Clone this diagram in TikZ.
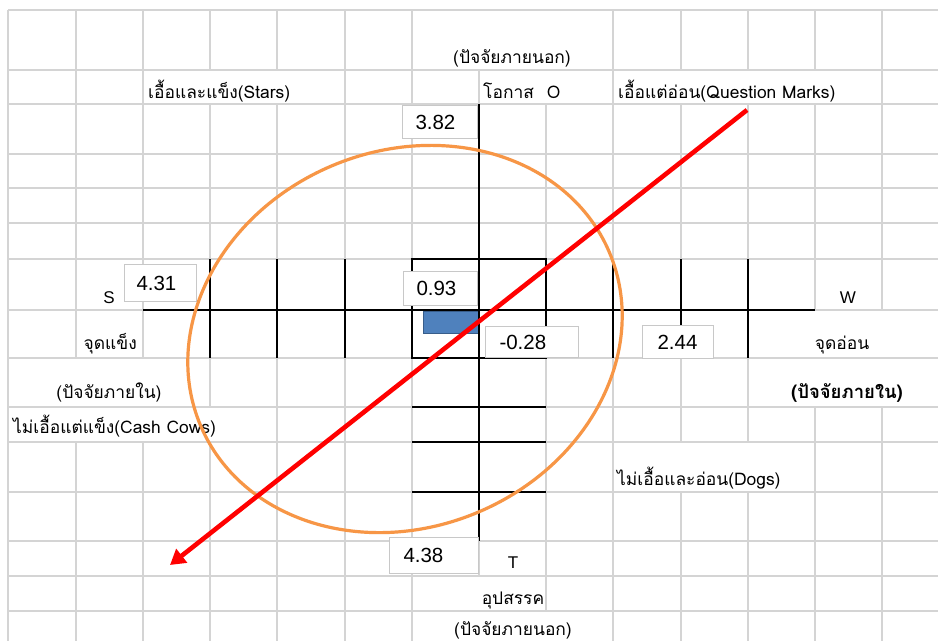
\documentclass[tikz,border=0pt]{standalone}
\usepackage{fontspec}
\setmainfont{Liberation Sans}
\newfontfamily\thaifont[Script=Thai]{Loma}
\usetikzlibrary{arrows.meta}
\definecolor{gridgray}{HTML}{D4D4D4}
\definecolor{boxgray}{HTML}{C8C8C8}
\definecolor{barblue}{HTML}{4F81BD}
\definecolor{barborder}{HTML}{385D8A}
\definecolor{ellorange}{HTML}{F79646}
\definecolor{arrowred}{HTML}{FF0000}
\begin{document}
\begin{tikzpicture}[x=1pt,y=-1pt,
  gridline/.style={draw=gridgray, line width=1.5pt},
  axisline/.style={draw=black, line width=2.2pt},
  tickline/.style={draw=black, line width=2pt},
  numbox/.style={draw=boxgray, line width=1pt, fill=white, anchor=north west,
    inner ysep=0pt, align=left, font=\fontsize{20.5}{22}\selectfont},
  thailabel/.style={inner sep=0pt, font=\thaifont\fontsize{17.4}{19}\selectfont},
  latinletter/.style={inner sep=0pt, font=\fontsize{17}{19}\selectfont},
  ellipsestyle/.style={draw=ellorange, line width=3.2pt},
  redarrow/.style={draw=arrowred, line width=4.6pt, -{Triangle[length=15pt,width=17pt]}}
]
\useasboundingbox[fill=white] (0,0) rectangle (938,641);

% gray spreadsheet grid
\foreach \y in {10,70,104,154,188,223,259,310,358,407,442,492,541,576,611}
  \draw[gridline] (8,\y) -- (938,\y);
\draw[gridline]
  (8,10)--(8,641)
  (76,10)--(76,358) (76,442)--(76,641)
  (143,10)--(143,358) (143,442)--(143,641)
  (210,10)--(210,70) (210,104)--(210,407) (210,442)--(210,641)
  (277,10)--(277,70) (277,104)--(277,641)
  (345,10)--(345,641)
  (412,10)--(412,641)
  (479,70)--(479,576)
  (546,104)--(546,611)
  (613,10)--(613,641)
  (681,10)--(681,70) (681,104)--(681,442) (681,492)--(681,641)
  (748,10)--(748,70) (748,104)--(748,442) (748,492)--(748,641)
  (815,10)--(815,70) (815,104)--(815,310) (815,407)--(815,641)
  (882,10)--(882,310) (882,407)--(882,641);

% blue bar
\node[draw=barborder, fill=barblue, line width=0.8pt, inner sep=0pt, anchor=north west,
  minimum width=56pt, minimum height=22pt] (bar) at (423,311) {};

% black axes and ticks
\draw[axisline] (143,310) -- (815,310);
\draw[axisline] (479,104) -- (479,541);
\draw[tickline] (210,259)--(210,358) (277,259)--(277,358) (345,259)--(345,358)
  (613,259)--(613,358) (681,259)--(681,358) (748,259)--(748,358);
\draw[tickline] (412,259) rectangle (546,358);
\draw[tickline] (412,407)--(546,407) (412,442)--(546,442) (412,492)--(546,492);

% value boxes
\node[numbox, minimum height=33pt, inner xsep=13pt, text width=49pt] (v382) at (402,105) {3.82};
\node[numbox, minimum height=37pt, inner xsep=12pt, text width=48pt] (v431) at (124,264) {4.31};
\node[numbox, minimum height=34pt, inner xsep=13pt, text width=48pt] (v093) at (403,271) {0.93};
\node[numbox, minimum height=31pt, inner xsep=14pt, text width=65pt] (v028) at (485,326) {-0.28};
\node[numbox, minimum height=33pt, inner xsep=15pt, text width=41pt] (v244) at (642,325) {2.44};
\node[numbox, minimum height=36pt, inner xsep=14pt, text width=61pt] (v438) at (389,537) {4.38};

% labels
\node[thailabel, anchor=base] (extTop) at (512,63) {(ปัจจัยภายนอก)};
\node[thailabel, anchor=base west] (stars) at (148,98) {เอื้อและแข็ง(Stars)};
\node[thailabel, anchor=base west] (opp) at (483,98) {โอกาส\hspace{13pt}O};
\node[thailabel, anchor=base west] (qmarks) at (618,98) {เอื้อแต่อ่อน(Question Marks)};
\node[latinletter, anchor=base] (sLetter) at (109,303) {S};
\node[latinletter, anchor=base] (wLetter) at (848,303) {W};
\node[thailabel, anchor=base east] (strength) at (137,349) {จุดแข็ง};
\node[thailabel, anchor=base] (weakness) at (842,349) {จุดอ่อน};
\node[thailabel, anchor=base] (intLeft) at (109,398) {(ปัจจัยภายใน)};
\node[thailabel, anchor=base, font=\thaifont\bfseries\fontsize{18.5}{20}\selectfont] (intRight) at (847,398) {(ปัจจัยภายใน)};
\node[thailabel, anchor=base west] (cows) at (13,433) {ไม่เอื้อแต่แข็ง(Cash Cows)};
\node[thailabel, anchor=base west] (dogs) at (617,485) {ไม่เอื้อและอ่อน(Dogs)};
\node[latinletter, anchor=base] (tLetter) at (513,568) {T};
\node[thailabel, anchor=base] (threat) at (513,604) {อุปสรรค};
\node[thailabel, anchor=base] (extBottom) at (513,635) {(ปัจจัยภายนอก)};

% orange ellipse
\draw[ellipsestyle, rotate around={23:(405,339)}] (405,339) ellipse [x radius=222, y radius=188];

% red arrow
\coordinate (arrowStart) at (747,110);
\coordinate (arrowEnd) at (170,565);
\draw[redarrow] (arrowStart) -- (arrowEnd);
\end{tikzpicture}
\end{document}
